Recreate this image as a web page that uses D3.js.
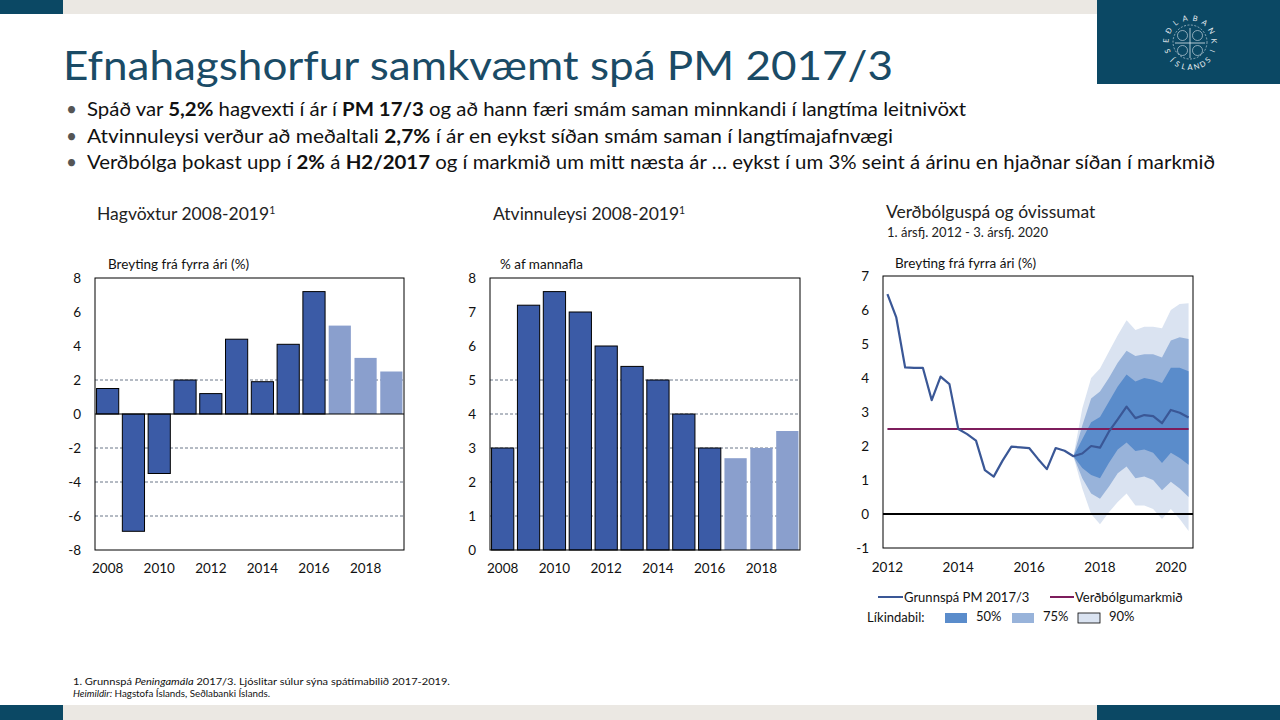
<!DOCTYPE html>
<html>
<head>
<meta charset="utf-8">
<script src="https://cdn.jsdelivr.net/npm/d3@7"></script>
<style>
  body { margin: 0; background: #fff; }
  svg { display: block; }
</style>
</head>
<body>
<script>

// --- data ---
const years = ['2008', '2009', '2010', '2011', '2012', '2013', '2014', '2015', '2016', '2017', '2018', '2019'];
const yearTicks = ['2008', '2010', '2012', '2014', '2016', '2018'];
const forecastYears = ['2017', '2018', '2019'];

const gdpGrowth = [1.5, -6.9, -3.5, 2.0, 1.2, 4.4, 1.9, 4.1, 7.2, 5.2, 3.3, 2.5];
const gdpTicks = [8, 6, 4, 2, 0, -2, -4, -6, -8];
const gdpGrid = [2, -2, -4, -6];

const unemployment = [3.0, 7.2, 7.6, 7.0, 6.0, 5.4, 5.0, 4.0, 3.0, 2.7, 3.0, 3.5];
const unempTicks = [0, 1, 2, 3, 4, 5, 6, 7, 8];
const unempGrid = [1, 2, 3, 4, 5];

// quarters 2012Q1 .. 2020Q3
const quarters = [];
for (let y = 2012; y <= 2020; y++) {
    for (let q = 1; q <= 4; q++) {
        if (y == 2020 && q > 3) break;
        quarters.push(y + 'Q' + q);
    }
}
const quarterTicks = ['2012Q1', '2014Q1', '2016Q1', '2018Q1', '2020Q1'];
const inflation = [6.47, 5.78, 4.31, 4.3, 4.3, 3.35, 4.04, 3.82, 2.5, 2.35, 2.16, 1.29,
    1.1, 1.57, 1.98, 1.96, 1.94, 1.62, 1.32, 1.94, 1.86, 1.7, 1.78, 2.0,
    1.95, 2.42, 2.78, 3.16, 2.82, 2.91, 2.88, 2.67, 3.06, 2.98, 2.84];
const inflTarget = 2.5;
const inflTicks = [7, 6, 5, 4, 3, 2, 1, 0, -1];

// fan chart, from 2017Q2 onwards
const fanStart = '2017Q2';
const upper90 = [1.7, 3.1, 4.0, 4.28, 4.77, 5.26, 5.7, 5.41, 5.51, 5.51, 5.46, 6.0, 6.18, 6.2];
const upper75 = [1.7, 2.6, 3.4, 3.6, 4.0, 4.45, 4.8, 4.65, 4.7, 4.7, 4.6, 5.1, 5.2, 5.15];
const upper50 = [1.7, 2.2, 2.7, 2.85, 3.3, 3.75, 4.1, 3.9, 4.0, 3.95, 3.85, 4.3, 4.3, 4.2];
const lower50 = [1.7, 1.35, 1.15, 1.05, 1.5, 1.9, 2.1, 1.85, 1.9, 1.8, 1.5, 1.8, 1.65, 1.45];
const lower75 = [1.7, 1.05, 0.6, 0.45, 0.8, 1.2, 1.4, 1.05, 1.1, 1.0, 0.7, 0.95, 0.75, 0.5];
const lower90 = [1.7, 0.75, 0.0, -0.3, 0.05, 0.35, 0.6, 0.25, 0.25, 0.15, -0.15, 0.15, -0.15, -0.5];

const bullets = [
    [['Spáð var ', false], ['5,2%', true], [' hagvexti í ár í ', false], ['PM 17/3', true], [' og að hann færi smám saman minnkandi í langtíma leitnivöxt', false]],
    [['Atvinnuleysi verður að meðaltali ', false], ['2,7%', true], [' í ár  en eykst síðan smám saman í langtímajafnvægi', false]],
    [['Verðbólga þokast upp í ', false], ['2%', true], [' á ', false], ['H2/2017', true], [' og í markmið um mitt næsta ár … eykst í um 3% seint á árinu en hjaðnar síðan í markmið', false]]
];
const bulletWidths = [879, 806, 1128];

const font = 'Lato, "Open Sans", sans-serif';
const teal = '#0b4864';
const darkBar = '#3b5ba6';
const lightBar = '#8a9fcd';

const svg = d3.select('body').append('svg')
    .attr('width', 1280)
    .attr('height', 720)
    .style('font-family', font);

// --- slide frame ---
svg.append('rect').attr('x', 0).attr('y', 0).attr('width', 63).attr('height', 14).attr('fill', teal);
svg.append('rect').attr('x', 63).attr('y', 0).attr('width', 1034).attr('height', 14).attr('fill', '#ebe8e3');
svg.append('rect').attr('x', 1097).attr('y', 0).attr('width', 183).attr('height', 84).attr('fill', teal);
svg.append('rect').attr('x', 0).attr('y', 705).attr('width', 63).attr('height', 15).attr('fill', teal);
svg.append('rect').attr('x', 63).attr('y', 705).attr('width', 1034).attr('height', 15).attr('fill', '#ebe8e3');
svg.append('rect').attr('x', 1097).attr('y', 705).attr('width', 183).attr('height', 15).attr('fill', teal);

// logo (simplified emblem), letters placed one by one round the ring
const logo = svg.append('g').attr('transform', 'translate(1190,42)').attr('fill', '#e8eef2');
const rad = Math.PI / 180;
'SEÐLABANKI'.split('').forEach((c, i) => {
    const a = -112 + i * (224 / 9);
    const r = 21.5;
    logo.append('text')
        .attr('transform', 'translate(' + (r * Math.sin(a * rad)) + ',' + (-r * Math.cos(a * rad)) + ') rotate(' + a + ')')
        .attr('text-anchor', 'middle').attr('font-size', 7.5)
        .text(c);
});
'ÍSLANDS'.split('').forEach((c, i) => {
    const a = 225 - i * 15;
    const r = 28;
    logo.append('text')
        .attr('transform', 'translate(' + (r * Math.sin(a * rad)) + ',' + (-r * Math.cos(a * rad)) + ') rotate(' + (a - 180) + ')')
        .attr('text-anchor', 'middle').attr('font-size', 7.5)
        .text(c);
});
logo.append('circle').attr('r', 17).attr('fill', 'none').attr('stroke', '#dfe8ee').attr('stroke-width', 0.6)
    .attr('stroke-dasharray', '2,1.5');
logo.append('line').attr('x1', -15).attr('x2', 15).attr('y1', 1).attr('y2', 1).attr('stroke', '#dfe8ee').attr('stroke-width', 0.8);
logo.append('line').attr('x1', 0).attr('x2', 0).attr('y1', -14).attr('y2', 16).attr('stroke', '#dfe8ee').attr('stroke-width', 0.8);
[[-7.5, -6.5], [7.5, -6.5], [-7.5, 8.5], [7.5, 8.5]].forEach(p => {
    logo.append('circle').attr('cx', p[0]).attr('cy', p[1]).attr('r', 5)
        .attr('fill', 'none').attr('stroke', '#dfe8ee').attr('stroke-width', 0.6);
});

// title
svg.append('text')
    .attr('x', 63).attr('y', 80)
    .attr('font-size', 40)
    .attr('fill', '#1a4b66')
    .attr('textLength', 830).attr('lengthAdjust', 'spacingAndGlyphs')
    .text('Efnahagshorfur samkvæmt spá PM 2017/3');

// bullets
bullets.forEach((parts, i) => {
    const y = 116 + i * 26.5;
    svg.append('text').attr('x', 66).attr('y', y).attr('font-size', 19).attr('fill', '#555').text('•');
    const t = svg.append('text')
        .attr('x', 87).attr('y', y)
        .attr('font-size', 19)
        .attr('fill', '#111')
        .attr('textLength', bulletWidths[i]).attr('lengthAdjust', 'spacingAndGlyphs');
    parts.forEach(p => {
        t.append('tspan').attr('font-weight', p[1] ? 700 : 400).text(p[0]);
    });
});

// helper for the two bar charts
function barChart(opt) {
    const g = svg.append('g');
    const x = d3.scaleBand().domain(years).range([opt.left, opt.right]).paddingInner(0.14).paddingOuter(0.06);
    const y = d3.scaleLinear().domain(opt.domain).range([opt.bottom, opt.top]);

    g.append('text').attr('x', opt.titleX).attr('y', 220).attr('font-size', 17.5).attr('fill', '#222')
        .text(opt.title)
        .append('tspan').attr('dy', -6).attr('font-size', 10.5).text('1');
    g.append('text').attr('x', opt.unitX).attr('y', 269).attr('font-size', 13.5).attr('fill', '#111').text(opt.unit);

    // dashed gridlines
    g.selectAll('.grid')
        .data(opt.grid)
        .enter()
        .append('line')
            .attr('x1', opt.left).attr('x2', opt.right)
            .attr('y1', d => y(d)).attr('y2', d => y(d))
            .attr('stroke', '#44546a')
            .attr('stroke-width', 0.8)
            .attr('stroke-dasharray', '3,2');

    g.selectAll('.bar')
        .data(opt.values)
        .enter()
        .append('rect')
            .attr('x', (d, i) => x(years[i]))
            .attr('width', x.bandwidth())
            .attr('y', d => y(Math.max(0, d)))
            .attr('height', d => Math.abs(y(d) - y(0)))
            .attr('fill', (d, i) => forecastYears.includes(years[i]) ? lightBar : darkBar)
            .attr('stroke', (d, i) => forecastYears.includes(years[i]) ? 'none' : '#000')
            .attr('stroke-width', 1);

    if (opt.domain[0] < 0) {
        g.append('line').attr('x1', opt.left).attr('x2', opt.right)
            .attr('y1', y(0)).attr('y2', y(0)).attr('stroke', '#000').attr('stroke-width', 1);
    }
    g.append('rect').attr('x', opt.left).attr('y', opt.top)
        .attr('width', opt.right - opt.left).attr('height', opt.bottom - opt.top)
        .attr('fill', 'none').attr('stroke', '#000').attr('stroke-width', 1);

    g.selectAll('.ytick')
        .data(opt.ticks)
        .enter()
        .append('text')
            .attr('x', opt.left - 14).attr('y', d => y(d) + 5)
            .attr('text-anchor', 'end').attr('font-size', 13.5).attr('fill', '#111')
            .text(d => d);

    g.selectAll('.xtick')
        .data(yearTicks)
        .enter()
        .append('text')
            .attr('x', d => x(d) + x.bandwidth() / 2).attr('y', 573)
            .attr('text-anchor', 'middle').attr('font-size', 13.5).attr('fill', '#111')
            .text(d => d);
}

barChart({
    left: 95, right: 404, top: 278, bottom: 550,
    domain: [-8, 8], values: gdpGrowth, ticks: gdpTicks, grid: gdpGrid,
    title: 'Hagvöxtur 2008-2019', titleX: 97, unit: 'Breyting frá fyrra ári (%)', unitX: 108
});

barChart({
    left: 490, right: 800, top: 278, bottom: 550,
    domain: [0, 8], values: unemployment, ticks: unempTicks, grid: unempGrid,
    title: 'Atvinnuleysi 2008-2019', titleX: 493, unit: '% af mannafla', unitX: 500
});

// --- inflation fan chart ---
const fc = { left: 883, right: 1193, top: 276, bottom: 548 };
const xq = d3.scalePoint().domain(quarters).range([fc.left, fc.right]).padding(0.5);
const yi = d3.scaleLinear().domain([-1, 7]).range([fc.bottom, fc.top]);
const g3 = svg.append('g');

g3.append('text').attr('x', 886).attr('y', 218).attr('font-size', 17.5).attr('fill', '#222').text('Verðbólguspá og óvissumat');
g3.append('text').attr('x', 887).attr('y', 237).attr('font-size', 13).attr('fill', '#222').text('1. ársfj. 2012 - 3. ársfj. 2020');
g3.append('text').attr('x', 895).attr('y', 268).attr('font-size', 13.5).attr('fill', '#111').text('Breyting frá fyrra ári (%)');

const fanQuarters = quarters.slice(quarters.indexOf(fanStart));
const band = (lo, hi) => d3.area()
    .x((d, i) => xq(fanQuarters[i]))
    .y0((d, i) => yi(lo[i]))
    .y1((d, i) => yi(hi[i]))(fanQuarters);

g3.append('path').attr('d', band(lower90, upper90)).attr('fill', '#dae3f1');
g3.append('path').attr('d', band(lower75, upper75)).attr('fill', '#98b3da');
g3.append('path').attr('d', band(lower50, upper50)).attr('fill', '#5a8ccb');

g3.append('line').attr('x1', fc.left).attr('x2', fc.right)
    .attr('y1', yi(0)).attr('y2', yi(0)).attr('stroke', '#000').attr('stroke-width', 2);

g3.append('line').attr('x1', xq(quarters[0])).attr('x2', xq(quarters[quarters.length - 1]))
    .attr('y1', yi(inflTarget)).attr('y2', yi(inflTarget))
    .attr('stroke', '#7d1d5c').attr('stroke-width', 2);

g3.append('path')
    .datum(inflation)
    .attr('d', d3.line().x((d, i) => xq(quarters[i])).y(d => yi(d)))
    .attr('fill', 'none')
    .attr('stroke', '#3a5796')
    .attr('stroke-width', 2.2)
    .attr('stroke-linejoin', 'round');

g3.append('rect').attr('x', fc.left).attr('y', fc.top)
    .attr('width', fc.right - fc.left).attr('height', fc.bottom - fc.top)
    .attr('fill', 'none').attr('stroke', '#000').attr('stroke-width', 1);

g3.selectAll('.ytick')
    .data(inflTicks)
    .enter()
    .append('text')
        .attr('x', fc.left - 14).attr('y', d => yi(d) + 5)
        .attr('text-anchor', 'end').attr('font-size', 13.5).attr('fill', '#111')
        .text(d => d);

g3.selectAll('.xtick')
    .data(quarterTicks)
    .enter()
    .append('text')
        .attr('x', d => xq(d)).attr('y', 572)
        .attr('text-anchor', 'middle').attr('font-size', 13.5).attr('fill', '#111')
        .text(d => d.slice(0, 4));

// legend
const lg = svg.append('g').attr('font-size', 13).attr('fill', '#111');
lg.append('line').attr('x1', 878).attr('x2', 903).attr('y1', 597).attr('y2', 597).attr('stroke', '#3a5796').attr('stroke-width', 2);
lg.append('text').attr('x', 904).attr('y', 601.5).text('Grunnspá PM 2017/3');
lg.append('line').attr('x1', 1050).attr('x2', 1074).attr('y1', 597).attr('y2', 597).attr('stroke', '#7d1d5c').attr('stroke-width', 2);
lg.append('text').attr('x', 1075).attr('y', 601.5).text('Verðbólgumarkmið');
lg.append('text').attr('x', 867).attr('y', 622).text('Líkindabil:');
const swatches = [['50%', '#5a8ccb', 945], ['75%', '#98b3da', 1012], ['90%', '#dae3f1', 1078]];
swatches.forEach(s => {
    lg.append('rect').attr('x', s[2]).attr('y', 613).attr('width', 22).attr('height', 10)
        .attr('fill', s[1]).attr('stroke', s[0] == '90%' ? '#000' : 'none').attr('stroke-width', 0.8);
    lg.append('text').attr('x', s[2] + 31).attr('y', 621).text(s[0]);
});

// footnote
const fn = svg.append('g').attr('font-size', 10).attr('fill', '#111');
const f1 = fn.append('text').attr('x', 73).attr('y', 685).attr('textLength', 377).attr('lengthAdjust', 'spacingAndGlyphs');
f1.append('tspan').text('1.  Grunnspá ');
f1.append('tspan').attr('font-style', 'italic').text('Peningamála');
f1.append('tspan').text(' 2017/3.  Ljóslitar súlur sýna spátímabilið 2017-2019.');
const f2 = fn.append('text').attr('x', 73).attr('y', 697).attr('textLength', 197).attr('lengthAdjust', 'spacingAndGlyphs');
f2.append('tspan').attr('font-style', 'italic').text('Heimildir:');
f2.append('tspan').text(' Hagstofa Íslands, Seðlabanki Íslands.');

</script>
</body>
</html>
